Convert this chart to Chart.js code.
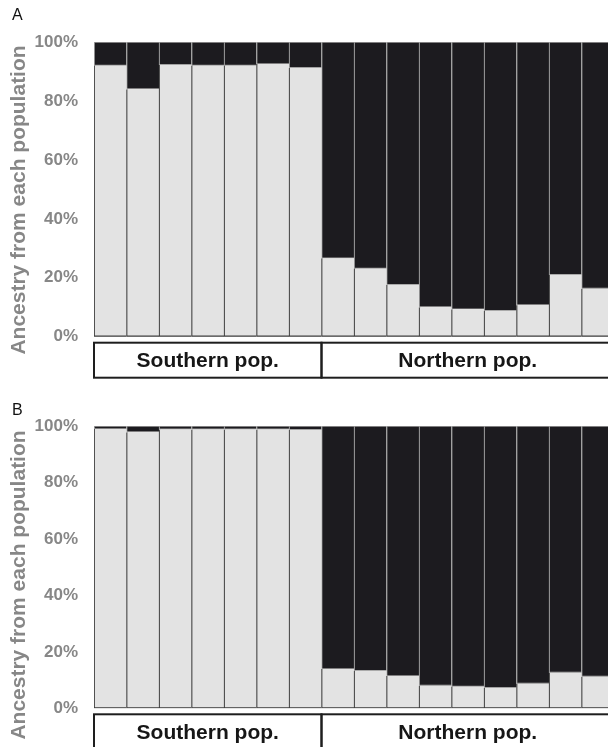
<!DOCTYPE html>
<html lang="en">
<head>
<meta charset="utf-8">
<title>Ancestry from each population</title>
<script src="https://cdn.jsdelivr.net/npm/chart.js"></script>
<style>
html,body{margin:0;padding:0;background:#fff;overflow:hidden;width:608px;height:747px}
#wrap{position:relative;width:608px;height:747px;overflow:hidden}
canvas{position:absolute;left:0}
#chartA{top:0}
#chartB{top:380px}
</style>
</head>
<body>
<div id="wrap">
  <canvas id="chartA" width="614" height="380"></canvas>
  <canvas id="chartB" width="614" height="380"></canvas>
</div>

<script>
/* ---------- data ---------- */
const samples    = ['S1','S2','S3','S4','S5','S6','S7','N1','N2','N3','N4','N5','N6','N7','N8','N9'];
const groupNames = ['Southern pop.','Northern pop.'];
const groupSizes = [7, 9];
const yTicks     = [0, 20, 40, 60, 80, 100];

// panel A (% ancestry, light = southern cluster, dark = northern cluster)
const lightA = [92.0, 84.0, 92.2, 92.0, 92.0, 92.5, 91.2, 26.6, 23.1, 17.6, 10.0, 9.3, 8.8, 10.7, 21.0, 16.3];
const darkA  = [ 8.0, 16.0,  7.8,  8.0,  8.0,  7.5,  8.8, 73.4, 76.9, 82.4, 90.0, 90.7, 91.2, 89.3, 79.0, 83.7];

// panel B
const lightB = [98.9, 97.8, 98.8, 98.8, 98.8, 98.8, 98.6, 13.9, 13.3, 11.4, 8.0, 7.7, 7.2, 8.7, 12.6, 11.2];
const darkB  = [ 1.1,  2.2,  1.2,  1.2,  1.2,  1.2,  1.4, 86.1, 86.7, 88.6, 92.0, 92.3, 92.8, 91.3, 87.4, 88.8];

/* ---------- styles ---------- */
const GREY_TXT = '#878787';
const FONT     = '"Liberation Sans", Arial, sans-serif';

/* group boxes, panel letter and rotated axis title */
const decor = {
  id:'decor',
  afterDraw(chart, args, o){
    const {ctx, chartArea:ca, scales:{x}} = chart;
    const half = (x.getPixelForValue(1) - x.getPixelForValue(0)) / 2;
    ctx.save();
    // population boxes
    let start = 0;
    groupSizes.forEach((n, i) => {
      const l = x.getPixelForValue(start) - half;
      const r = x.getPixelForValue(start + n - 1) + half;
      ctx.strokeStyle = '#1e1e1e';
      ctx.lineWidth = 2;
      ctx.strokeRect(l, ca.bottom + 6, r - l, 35);
      ctx.fillStyle = '#161616';
      ctx.font = 'bold 21px ' + FONT;
      ctx.textAlign = 'center';
      ctx.textBaseline = 'alphabetic';
      ctx.fillText(groupNames[i], (l + r) / 2, ca.bottom + 30.5);
      start += n;
    });
    // panel letter
    ctx.fillStyle = '#111';
    ctx.font = '16px ' + FONT;
    ctx.textAlign = 'left';
    ctx.fillText(o.letter, 12, o.letterY);
    // y title
    ctx.translate(19.5, o.titleY);
    ctx.rotate(-Math.PI / 2);
    ctx.fillStyle = GREY_TXT;
    ctx.font = 'bold 21px ' + FONT;
    ctx.textAlign = 'center';
    ctx.textBaseline = 'middle';
    ctx.fillText('Ancestry from each population', 0, 0);
    ctx.restore();
  }
};

function makeChart(id, light, dark, pad, deco){
  return new Chart(document.getElementById(id), {
    type:'bar',
    data:{
      labels:samples,
      datasets:[
        {data:light, backgroundColor:'#e3e3e3', borderColor:'#3a3a3a',
         borderWidth:{left:1.2, top:0, right:0, bottom:1.5}, borderSkipped:false},
        {data:dark, backgroundColor:'#1c1b1f', borderColor:'#a2a2a2',
         borderWidth:{left:1.2, top:1.2, right:0, bottom:1.2}, borderSkipped:false}
      ]
    },
    options:{
      responsive:false, animation:false,
      layout:{padding:pad},
      datasets:{bar:{barPercentage:1, categoryPercentage:1}},
      plugins:{legend:{display:false}, tooltip:{enabled:false}, decor:deco},
      scales:{
        x:{stacked:true, display:false},
        y:{stacked:true, min:0, max:100,
           afterFit:s => { s.width = 94; },
           afterBuildTicks:s => { s.ticks = yTicks.map(v => ({value:v})); },
           grid:{display:false, drawTicks:false}, border:{display:false},
           ticks:{padding:16, color:GREY_TXT, font:{family:FONT, size:17, weight:'bold'},
                  callback:v => v + '%'}}
      }
    },
    plugins:[decor]
  });
}

makeChart('chartA', lightA, darkA, {top:42, bottom:43.3, left:0, right:0}, {letter:'A', letterY:20, titleY:200});
makeChart('chartB', lightB, darkB, {top:46, bottom:51.7, left:0, right:0}, {letter:'B', letterY:35, titleY:205});
</script>
</body>
</html>
